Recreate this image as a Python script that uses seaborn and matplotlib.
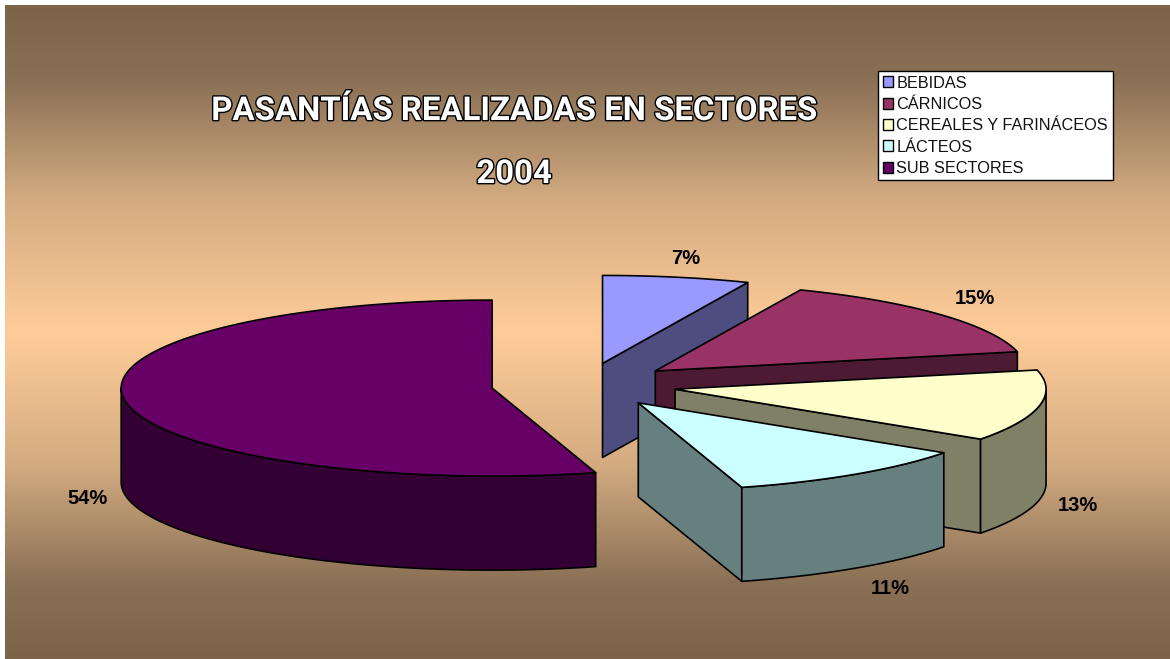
import numpy as np
import matplotlib
matplotlib.use('Agg')
import matplotlib.pyplot as plt
import matplotlib.patheffects as pe
from matplotlib.colors import LinearSegmentedColormap
from matplotlib.patches import Patch, Polygon
import seaborn as sns

# datos (porcentaje de pasantias)
sectores = ['BEBIDAS', 'CÁRNICOS', 'CEREALES Y FARINÁCEOS', 'LÁCTEOS', 'SUB SECTORES']
valores = [6.4, 15.1, 13.1, 10.9, 54.5]
etiquetas = ['7%', '15%', '13%', '11%', '54%']
titulo = ['PASANTÍAS REALIZADAS EN SECTORES', '2004']

sns.set_theme(style='white')
plt.rcParams['font.family'] = ['Liberation Sans']

colores = sns.color_palette(['#9999FF', '#993366', '#FFFFCC', '#CCFFFF', '#660066'])
oscuros = sns.color_palette(['#4D4D80', '#4D1A33', '#808066', '#668080', '#330033'])

# geometria del pastel en pixeles
CX, CY = 584, 385
RX, RY = 371, 88
ALTO = 94
EXPLOSION = 0.25
# retoque a mano de las etiquetas
AJUSTE = [(0, 3), (0, -2), (-5, 1), (9, 2), (7, 1)]


def punto(cx, cy, ang, k=1.0):
    return cx + RX * k * np.sin(ang), cy - RY * k * np.cos(ang)


def arco(cx, cy, a0, a1):
    t = np.linspace(a0, a1, 120)
    return np.column_stack(punto(cx, cy, t))


def poligono(ax, pts, color):
    ax.add_patch(Polygon(pts, closed=True, facecolor=color, edgecolor='black',
                         linewidth=1.2, joinstyle='round'))


fig = plt.figure(figsize=(11.7, 6.59), dpi=100, facecolor='white')
ax = fig.add_axes([0, 0, 1, 1])
ax.axis('off')

# fondo degradado, no lineal como el original
cmap = LinearSegmentedColormap.from_list('fondo', [
    (0, '#7D6449'), (0.115, '#8A7055'), (0.3, '#D4AC81'), (0.5, '#FFCC99'),
    (0.7, '#D4AC81'), (0.885, '#8A7055'), (1, '#7D6449')])
ax.imshow(np.linspace(0, 1, 512)[:, None], cmap=cmap, aspect='auto',
          extent=(5, 1170, 659, 5), zorder=0)
ax.set_xlim(0, 1170)
ax.set_ylim(659, 0)

limites = np.cumsum([0] + valores) / sum(valores) * 2 * np.pi

# de atras hacia adelante, igual que el orden de las series
for i, sector in enumerate(sectores):
    a0, a1 = limites[i], limites[i + 1]
    media = (a0 + a1) / 2
    cx = CX + EXPLOSION * RX * np.sin(media)
    cy = CY - EXPLOSION * RY * np.cos(media)
    apice = np.array([cx, cy])
    abajo = np.array([0, ALTO])

    # cara del corte
    for ang, visible in ((a0, np.sin(a0) < -1e-6), (a1, np.sin(a1) > 1e-6)):
        if visible:
            p = np.array(punto(cx, cy, ang))
            poligono(ax, [apice, p, p + abajo, apice + abajo], oscuros[i])

    # borde curvo, solo la mitad delantera
    b0, b1 = max(a0, np.pi / 2), min(a1, 3 * np.pi / 2)
    if b1 > b0:
        borde = arco(cx, cy, b0, b1)
        poligono(ax, np.vstack([borde, (borde + abajo)[::-1]]), oscuros[i])

    # cara superior
    poligono(ax, np.vstack([apice, arco(cx, cy, a0, a1)]), colores[i])

    # etiqueta de porcentaje
    lx = cx + 1.12 * RX * np.sin(media) + AJUSTE[i][0]
    ly = cy - 1.25 * RY * np.cos(media) + (ALTO if np.cos(media) < 0 else 0) + AJUSTE[i][1]
    ax.text(lx, ly, etiquetas[i], ha='center', va='center', fontsize=14.5,
            fontweight='bold', color='black')

# titulo blanco con contorno negro
contorno = [pe.withStroke(linewidth=2, foreground='black')]
for texto, y in zip(titulo, [111, 174]):
    ax.text(514, y, texto, ha='center', va='center', fontsize=23.7, fontweight='bold',
            family=['Roboto', 'Liberation Sans'], color='white',
            path_effects=contorno)

# leyenda
manijas = [Patch(facecolor=c, edgecolor='black', linewidth=1) for c in colores]
leg = ax.legend(manijas, sectores, loc='upper left', bbox_to_anchor=(878, 71),
                bbox_transform=ax.transData, fontsize=11.7, frameon=True, fancybox=False,
                framealpha=1, facecolor='white', edgecolor='black', borderpad=0.28,
                labelspacing=0.39, handlelength=0.65, handleheight=0.65,
                handletextpad=0.2, borderaxespad=0)
leg.get_frame().set_linewidth(1)
for t in leg.get_texts():
    t.set_color('#111111')

fig.savefig('out.png', dpi=100)
